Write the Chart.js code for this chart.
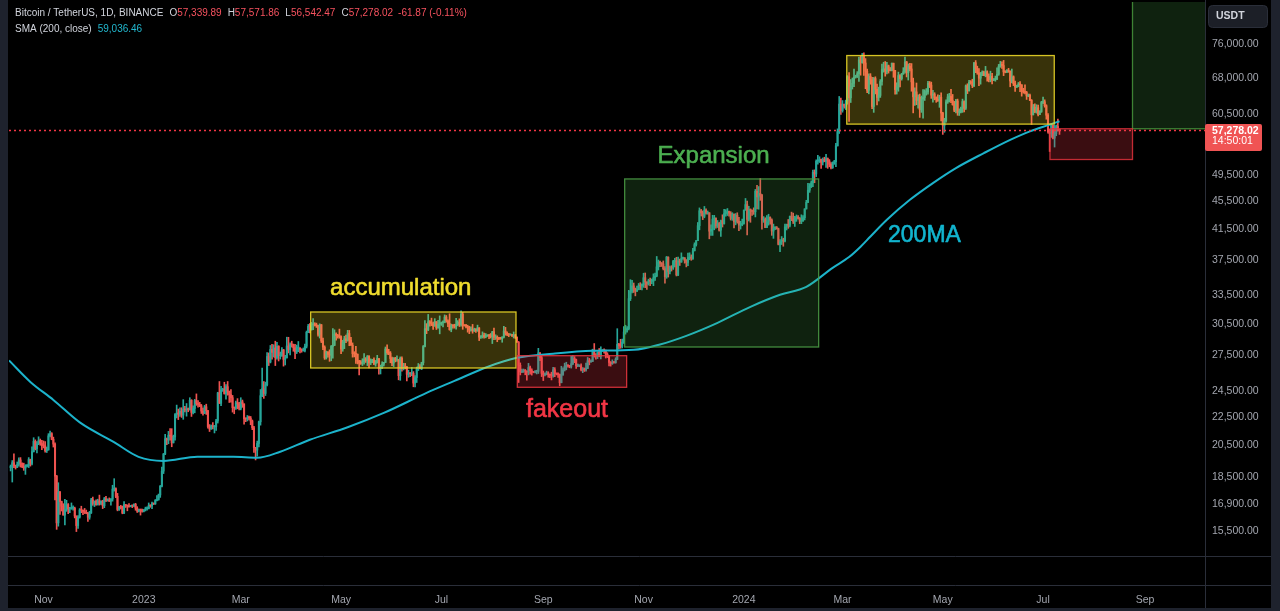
<!DOCTYPE html>
<html><head><meta charset="utf-8">
<script src="https://cdn.jsdelivr.net/npm/chart.js@4.4.1/dist/chart.umd.min.js"></script>
<style>html,body{margin:0;padding:0;background:#000;overflow:hidden}canvas{display:block}</style>
</head><body>
<canvas id="c" width="1280" height="611"></canvas>
<script>
// ---------------- DATA (BTC/USDT daily) ----------------
const startDate = '2022-10-12';
const firstOpen = 19060;
const closes = [
19155,19375,19175,19070,19262,19550,19330,19125,19040,19165,19205,19570,19330,20085,20770,20290,20595,20818,20630,20490,
20480,20150,20205,21150,21300,20905,20590,18545,15922,17600,17070,16812,16330,16620,16900,16660,16690,16700,16700,16280,15780,16225,16605,16595,16520,16460,16430,16215,16440,17160,
16970,17090,16885,17110,16965,17090,16835,17225,17130,17130,17090,17210,17775,17800,17360,16630,16780,16740,16440,16900,16825,16820,16780,16840,16830,16915,16705,16545,16635,16605,16540,
16615,16670,16675,16850,16830,16950,16940,17125,17180,17440,17940,18850,19930,20950,20870,21180,21130,20675,21070,22670,22780,22710,22910,22630,23060,23010,23075,23030,23745,22830,23125,
23730,23490,23430,23325,22930,22760,23250,22960,21800,21630,21860,21780,21780,22200,24330,23520,24570,24630,24280,24830,24450,24190,23950,23190,23160,23555,23490,23140,
23630,23470,22360,22350,22430,22410,22200,21710,20360,20190,20630,22140,24110,24670,24290,24990,27400,26910,28040,27770,28170,27300,28330,27470,27480,27990,27140,27270,28350,28030,28480,
28450,28190,27800,28170,28180,28040,27920,27950,28330,29650,30230,29880,30390,30480,30320,30315,29450,30390,28820,28250,27270,27820,27590,27520,28310,28420,29480,29340,29250,29230,
28070,28680,29030,28850,29530,28900,28430,27660,27630,27600,26990,26800,26790,26930,27170,27030,27400,26830,26890,27110,26750,26850,27220,26330,26470,26720,26870,28080,27740,27700,27220,
26820,27250,27070,27120,25740,27240,26340,26500,26480,25850,25940,25900,25920,25120,25580,26340,26510,26340,26850,28310,30000,29890,30690,30550,30470,30270,30690,30080,30450,30470,
30590,30620,31160,30770,30510,29900,30350,30290,30170,30410,30620,30380,31450,30320,30290,30230,30140,29860,29910,29800,29910,29800,30080,29180,29230,29350,29210,29310,29350,29280,29230,
29700,29170,29180,29070,29060,29040,29180,29770,29570,29440,29400,29420,29280,29400,29170,28700,26620,26050,26100,26190,26120,26040,26430,26160,26060,26010,26090,26100,27720,27300,25930,
25800,25870,25970,25810,25780,25750,26240,25900,25890,25830,25160,25840,26220,26530,26610,26570,26530,26760,27210,27130,26570,26580,26580,26250,26300,26210,26350,27020,26910,26960,
27990,27500,27430,27790,27410,27930,27950,27920,27590,27390,26870,26760,26860,26850,27150,28500,28400,28320,28710,29680,29910,29990,33090,33900,34500,34150,33890,34080,34520,34490,34640,
35420,34940,34720,35080,35010,35040,35420,35620,36700,37310,37130,37060,36490,35540,37880,36160,36590,36570,37360,37450,35750,37410,37290,37720,37800,37450,37240,37830,37860,37720,
38690,39470,39980,41980,44080,43770,43290,44170,43720,43790,41240,41490,42890,43020,41940,42280,41370,42660,42270,43670,43860,43990,43730,43010,43600,42520,43440,42580,42070,42140,42280,
44180,44970,42850,44180,44160,43970,43930,46970,46110,46630,46340,42780,42840,41730,42510,43140,42760,41260,41620,41660,41580,39500,39840,40080,39940,41820,42120,42030,43300,42940,42580,
43080,43190,42990,42580,42660,43090,44340,45290,47130,47750,48290,49960,49700,51800,51910,52140,51650,52120,51780,52260,51850,51300,50730,51570,51730,54480,57040,62430,61130,
62390,61990,63110,68250,63720,66070,66800,68170,68350,68930,72100,71450,73070,71390,69500,65300,68390,67610,61940,67850,65500,63800,64220,67210,69880,69990,69450,70740,69890,69650,71330,
69700,65460,65980,68510,67840,68900,69360,71620,69150,70620,70010,67120,63920,64970,63190,63820,61280,63480,63800,64940,64940,66840,66410,64280,64500,63760,63420,63110,63840,60640,
58250,59120,62880,63890,64030,63160,62310,61190,63070,60790,60820,61480,62940,61580,66260,65230,67050,66940,66280,71450,70140,69120,67930,68530,69280,68500,69360,68370,67630,68350,67490,
67710,67750,68800,70570,71080,70790,69340,69310,69650,69510,67320,68240,66750,66010,66190,66640,66490,65170,64960,64830,64100,64250,63180,60280,61800,60860,61680,60330,60930,62760,
62900,62090,60200,57040,56660,58240,55860,56700,58040,57339.89,57278.02
];
const highs = [
19230,19510,19950,19225,19420,19680,19700,19360,19345,19250,19250,19700,19600,20400,21020,20875,20750,21085,20930,20840,
20800,20750,20390,21300,21480,21370,21060,20670,18590,18150,17650,17090,16950,17190,17135,16960,16750,16990,16830,16760,16290,16300,16680,16810,16600,16690,16600,16480,16530,17250,
17320,17100,17160,17200,17430,17110,17140,17300,17360,17225,17270,17240,18000,18390,17850,17530,16800,16860,16820,17060,16910,16870,16960,16860,16860,16940,16970,16785,16660,16640,16650,
16630,16760,16770,16990,16880,17040,16960,17180,17400,17490,17990,19100,19970,21260,21000,21460,21650,21650,21200,22750,23380,23080,23170,23180,23800,23280,23500,23160,23950,23800,23320,
23820,24250,23720,23590,23430,23160,23360,23450,22990,21940,21910,22090,21880,22320,24380,25250,24860,24700,25190,25000,25250,24480,24600,24130,23220,23680,23880,23600,
23950,23770,23480,22420,22600,22550,22530,22270,21820,20370,20790,22190,24600,26380,25250,25200,27750,27720,28400,28500,28470,28800,28700,28380,27800,28200,28040,27500,29180,29170,28650,
28800,28530,28500,28440,28770,28190,28100,28170,28530,29770,30420,30500,30620,31000,30590,30550,30320,30480,30410,29100,28370,27890,27820,28000,28400,30020,29890,29600,29450,29960,
29300,28880,29270,29380,29840,29830,29170,28640,27830,28330,27630,27050,27040,27200,27670,27300,27490,27480,27190,27150,27270,27050,27500,27220,26640,26930,26880,28260,28450,28050,27840,
27350,27300,27320,27450,27130,27360,27360,26800,26790,26530,26200,26000,26430,26080,25750,26470,26780,26690,26890,28400,30800,30500,31430,30800,31050,30660,31000,30700,30840,31280,
30660,30790,31380,31320,30880,31500,30450,30380,30440,31040,30800,30980,31810,31640,30390,30440,30340,30240,30190,30420,30050,30000,30350,30100,29330,29690,29580,29530,29410,29450,29530,
29740,30050,29410,29310,29110,29170,29230,30240,30130,29700,29530,29480,29460,29680,29440,29220,28780,26830,26290,26300,26260,26140,26790,26560,26320,26100,26170,26200,28140,27760,27500,
26130,25980,26120,26070,25870,26030,26450,26420,25940,25970,25880,26540,26400,26810,26890,26670,26620,27410,27490,27390,27160,26740,26640,26740,26430,26390,26820,27310,27230,27100,
28060,28580,27660,27830,28120,28280,28000,28100,27990,27740,27480,26950,27100,26970,27290,30000,28610,28980,29000,30200,30340,30200,34000,35200,35130,34820,34250,34480,34770,34860,34720,
35950,35980,34950,35260,35380,35280,35880,35980,37970,37530,37400,37220,37420,36750,37980,37930,36800,36850,37500,37750,37870,37890,37650,38420,37890,37830,37590,38380,38430,38170,
38980,39700,40000,42420,44490,44300,44050,44700,44370,44040,43800,42100,43430,43420,43090,42700,42430,42760,43500,44280,44240,44400,44020,43950,43800,43600,43680,43790,43130,42600,42900,
44180,45880,45500,44730,44340,44190,44500,47250,47900,47700,48970,46500,43250,43080,43400,43580,43200,42930,42200,41870,41870,41650,40130,40520,40300,42220,42200,42840,43310,43880,43740,
43290,43480,43380,43120,43500,43400,44370,45610,48200,48170,48590,50330,50370,52040,52820,52570,52190,52370,52490,52980,52370,52090,51560,51700,51960,54940,57580,64000,63680,
63150,62430,63230,68500,69170,67640,67980,69990,68600,69400,72800,72970,73650,73780,72420,70000,68900,68950,68120,68100,68240,66650,65970,67620,71150,71560,71730,71560,70900,70340,71370,
71350,69700,66920,69290,68720,69000,70300,72800,71760,71170,71280,71250,67940,65850,66870,64360,64500,64100,65450,65420,65670,67230,67200,67070,65290,64790,63920,64330,64250,64740,
60780,59600,63320,64490,64650,65500,64420,62980,63420,63450,61460,61830,63450,63100,66450,66700,67450,67400,67700,71500,71950,70650,70100,69220,69570,69500,70600,69570,68900,69500,69040,
67860,68400,70280,71060,71760,71630,71990,69580,69850,70150,69560,69990,68450,67300,66400,66990,67200,66490,65730,66480,65070,64520,64500,63360,62350,62480,62300,62200,61100,63000,
63850,63300,62290,60500,57500,58480,58240,58270,58300,59450,57571.86
];
const lows = [
18860,18190,19070,18975,19065,19155,19100,19070,18900,18650,19110,19070,19160,19240,20060,20200,20000,20550,20510,20220,
20330,20050,20030,20180,21080,20880,20390,17166,15588,15750,16360,16550,16330,15815,16530,16400,16460,16640,16600,16180,15476,15630,16170,16460,16350,16410,16400,16000,16110,16420,
16860,16790,16870,16880,16870,16900,16680,16730,17060,17090,17070,16870,17090,17660,17280,16560,16580,16660,16400,16400,16740,16560,16760,16780,16730,16790,16590,16470,16500,16330,16490,
16500,16550,16600,16660,16750,16670,16900,16910,17100,17140,17300,17900,18700,19890,20550,20610,20850,20410,20660,20850,22420,22300,22540,22460,22320,22870,22550,22880,23000,22530,22720,
22800,23360,23230,23260,22750,22630,22740,22680,21690,21450,21600,21630,21350,21530,22050,23500,23340,24450,24230,23840,24150,23580,23610,22850,22730,23050,23100,23020,
23020,23210,21970,22150,22200,22270,21930,21580,20040,19550,19790,20400,21900,24040,23900,24120,24900,26600,26830,27150,27350,26600,27160,27000,27170,27400,26550,26650,27270,27720,27550,
28250,27870,27200,27660,27830,27710,27780,27880,27800,28170,29610,29600,29870,29900,30260,30120,29270,29100,28670,28010,27140,27170,27330,26970,27020,27250,28380,28890,29090,29080,
27660,27870,28110,28670,28800,28380,28400,27340,27360,26780,26740,25810,26700,26600,26730,26870,26600,26390,26680,26850,26680,26540,26820,25870,25880,26340,26560,26870,27580,27560,26840,
26600,26510,26920,26970,25390,25350,26120,26220,26310,25300,25600,25650,25730,24820,24800,25170,26170,26300,26250,26650,28270,29520,29810,30250,30300,29930,30230,29920,30040,29500,
30320,30180,30580,30640,30200,29850,29700,30040,30050,29950,30300,30210,30250,29940,30250,30080,29660,29520,29750,29560,29720,29640,29740,28860,29060,29100,29090,29120,29250,29030,29100,
28580,28950,28960,28750,28950,28970,28700,29100,29370,29330,29230,29360,29250,29100,29060,28700,25170,25800,25980,26010,25810,25370,25800,25860,25780,25980,25960,25880,25920,27020,25660,
25330,25720,25800,25600,25560,25380,25620,25650,25800,25580,24900,25140,25760,26130,26230,26470,26410,26380,26670,26850,26360,26500,26500,26130,25990,26090,26120,26340,26660,26890,
26950,27340,27160,27210,27370,27180,27850,27690,27260,27300,26560,26550,26700,26810,26800,27110,28080,28140,28170,28600,29470,29660,29880,32880,33700,33760,33390,33870,34050,34080,34050,
34330,34300,34100,34580,34520,34740,34520,35110,35540,36330,36720,36750,36340,34800,35360,35500,35870,36210,36400,36700,35630,35660,36870,37250,37600,37150,36700,36860,37570,37500,
37620,38650,39280,39980,41420,43340,42820,43080,43580,43580,40220,40680,40670,41420,41660,41730,41250,40530,41800,42190,43300,43400,43300,42760,42720,41680,42100,42330,41300,41520,41970,
42180,44150,40750,42630,42450,43400,43560,43200,44340,44300,45600,41500,42440,41720,41700,42050,42200,40680,40280,41450,41500,39430,38560,39480,39260,39830,41400,41620,41800,42680,42280,
41880,42580,42880,42260,42260,42570,42780,44330,45240,46800,47540,47700,48300,49270,51320,51590,50620,51180,51710,50760,50620,50880,50520,50600,51280,50900,54440,56720,60360,
60800,61610,61320,62400,59000,62750,65560,66100,67950,68070,67200,68600,71330,68560,65630,64780,64550,66600,61500,60760,64530,62260,63060,63800,66400,69280,68380,68900,69070,69560,69560,
68130,64500,64500,65100,66000,67500,68790,69040,68210,67520,69570,65100,60660,62140,62300,61600,59770,60760,59600,63170,64270,64500,65880,63600,62800,63300,62790,62990,61770,59100,
56550,56940,58850,62570,62850,62700,62200,60900,60630,60180,60150,60630,60750,60870,61330,64600,65100,66600,65860,66060,69160,68800,66300,66620,68500,68500,68230,67300,67120,67130,66670,
67390,67260,67610,68560,70380,70120,68500,69130,69140,69230,66050,66900,66300,65080,65880,66050,64990,64060,64680,64520,63380,63940,63150,58400,60250,60710,60600,60050,60300,60750,
62500,61800,59420,56770,53480,56000,55720,54260,56300,57160,56542.47
];
// 200-day SMA (day offsets from 2022-11-01)
const smaDays = [-21,-8,6,22.5,42.6,57.8,72.9,93.6,115.5,130,144,162,185,207,233,250,270,288,310,334,359,375,391,410,430,448,464,480,490,497,503,513,527,541,555,572,588,600,612,618];
const smaValues = [27050,25220,23780,22060,20740,19750,19490,19750,19750,19690,20080,20880,21750,22790,24330,25300,26480,27280,27650,27910,28000,28500,29310,30580,32220,33510,34390,36590,37900,39200,40530,42800,45680,48240,50660,53200,55550,57120,58380,59036.46];
// axis ticks
const priceTicks = [76000,68000,60500,49500,45500,41500,37500,33500,30500,27500,24500,22500,20500,18500,16900,15500];
const monthLabels = ['Nov','2023','Mar','May','Jul','Sep','Nov','2024','Mar','May','Jul','Sep'];
const monthDates = ['2022-11-01','2023-01-01','2023-03-01','2023-05-01','2023-07-01','2023-09-01','2023-11-01','2024-01-01','2024-03-01','2024-05-01','2024-07-01','2024-09-01'];
// drawn zones (day offsets from 2022-11-01, prices)
const zoneFrom   = [162.5, 288.2, 353.5, 488.6];
const zoneTo     = [287.4, 354.7, 471.5, 614.8];
const zoneTop    = [31680, 27470, 48900, 73140];
const zoneBottom = [26390, 24780, 28260, 58480];
const labelTexts  = ['accumulation','Expansion','fakeout','200MA'];
const labelDays   = [174.3, 373.5, 293.5, 513.7];
const labelPrices = [33510, 51540, 22490, 39870];
// long/short position tool
const posFrom = 612.2, posSplit = 662.4;
const posEntry = 57600, posStop = 52100, posTarget = 100000;
const countdown = '14:50:01';

// ---------------- STYLE ----------------
const FONT = '"Liberation Sans", Arial, sans-serif';
const UP = '#26a69a', DOWN = '#ef5350';
const SMA_COLOR = '#1cb3cb';
const zoneFill   = ['rgba(255,228,45,0.22)','rgba(242,54,69,0.24)','rgba(80,180,80,0.19)','rgba(255,228,45,0.22)'];
const zoneStroke = ['rgba(235,215,40,0.9)','rgba(235,55,65,0.85)','rgba(76,160,70,0.85)','rgba(235,215,40,0.9)'];
const labelColors = ['#efdc2e','#4caf50','#f23645','#12b5cf'];
const labelFonts  = ['24px '+FONT,'24px '+FONT,'25px '+FONT,'23px '+FONT];

// ---------------- BUILD ----------------
const EPOCH = Date.UTC(2022,10,1), DAY = 86400000;
function dayOf(s){const p=s.split('-').map(Number);return (Date.UTC(p[0],p[1]-1,p[2])-EPOCH)/DAY;}
const d0 = dayOf(startDate);
const monthDays = monthDates.map(dayOf);
const opens = closes.map((c,i)=> i===0 ? firstOpen : closes[i-1]);
const candleColors = closes.map((c,i)=> c>=opens[i] ? UP : DOWN);
const wickData = closes.map((c,i)=>({x:d0+i, y:[Math.min(lows[i],opens[i],c), Math.max(highs[i],opens[i],c)]}));
const bodyData = closes.map((c,i)=>({x:d0+i, y:[opens[i], c]}));
const smaData = smaDays.map((d,i)=>({x:d, y:smaValues[i]}));

const n = closes.length;
const lastO = opens[n-1], lastH = highs[n-1], lastL = lows[n-1], lastC = closes[n-1];
const fmt = v => v.toLocaleString('en-US',{minimumFractionDigits:2,maximumFractionDigits:2});

const overlay = {
  id:'overlay',
  beforeDraw(chart){
    const {ctx,width,height} = chart;
    ctx.save();
    ctx.fillStyle='#000'; ctx.fillRect(0,0,width,height);
    ctx.restore();
  },
  afterDatasetsDraw(chart){
    const {ctx,chartArea:a} = chart;
    const xs = chart.scales.x, ys = chart.scales.y;
    ctx.save();
    ctx.beginPath(); ctx.rect(a.left,a.top,a.right-a.left,a.bottom-a.top); ctx.clip();
    // zones
    for(let i=0;i<zoneFrom.length;i++){
      const x1=xs.getPixelForValue(zoneFrom[i]), x2=xs.getPixelForValue(zoneTo[i]);
      const y1=ys.getPixelForValue(zoneTop[i]), y2=ys.getPixelForValue(zoneBottom[i]);
      ctx.fillStyle=zoneFill[i]; ctx.fillRect(x1,y1,x2-x1,y2-y1);
      ctx.strokeStyle=zoneStroke[i]; ctx.lineWidth=1.3; ctx.strokeRect(x1,y1,x2-x1,y2-y1);
    }
    // position tool
    const px1=xs.getPixelForValue(posFrom), px2=xs.getPixelForValue(posSplit), px3=a.right;
    const ye=ys.getPixelForValue(posEntry), yst=ys.getPixelForValue(posStop), yt=ys.getPixelForValue(posTarget);
    ctx.fillStyle='rgba(80,180,80,0.19)'; ctx.fillRect(px2,yt,px3-px2,ye-yt);
    ctx.strokeStyle='rgba(70,150,60,0.85)'; ctx.lineWidth=1.3; ctx.strokeRect(px2,yt,px3-px2+2,ye-yt);
    ctx.fillStyle='rgba(242,54,69,0.24)'; ctx.fillRect(px1,ye,px2-px1,yst-ye);
    ctx.strokeStyle='rgba(225,50,60,0.85)'; ctx.strokeRect(px1,ye,px2-px1,yst-ye);
    // labels (slight stroke to mimic the medium weight of the original)
    ctx.textAlign='left'; ctx.textBaseline='alphabetic'; ctx.lineWidth=0.6; ctx.lineJoin='round';
    for(let i=0;i<labelTexts.length;i++){
      const lx=xs.getPixelForValue(labelDays[i]), ly=ys.getPixelForValue(labelPrices[i]);
      ctx.font=labelFonts[i]; ctx.fillStyle=labelColors[i]; ctx.strokeStyle=labelColors[i];
      ctx.fillText(labelTexts[i], lx, ly);
      ctx.strokeText(labelTexts[i], lx, ly);
    }
    // last price dotted line
    const yl = Math.round(ys.getPixelForValue(lastC))+0.5;
    ctx.strokeStyle='#f23645'; ctx.lineWidth=1.6; ctx.setLineDash([2,3]);
    ctx.beginPath(); ctx.moveTo(a.left,yl); ctx.lineTo(a.right,yl); ctx.stroke();
    ctx.restore();
  },
  afterDraw(chart){
    const {ctx,width,height,chartArea:a} = chart;
    const ys = chart.scales.y;
    ctx.save();
    // frame strips
    ctx.fillStyle='#1e222d';
    ctx.fillRect(0,0,8,height); ctx.fillRect(1271,0,width-1271,height); ctx.fillRect(0,608,width,height-608);
    // separators
    ctx.strokeStyle='#2a2e39'; ctx.lineWidth=1;
    ctx.beginPath();
    ctx.moveTo(8,556.5); ctx.lineTo(1271,556.5);
    ctx.moveTo(8,585.5); ctx.lineTo(1271,585.5);
    ctx.moveTo(a.right+0.5,0); ctx.lineTo(a.right+0.5,608);
    ctx.stroke();
    // price label
    const yl = ys.getPixelForValue(lastC);
    ctx.fillStyle='#f05454';
    ctx.beginPath(); ctx.roundRect(a.right,yl-6.5,57,27,2); ctx.fill();
    ctx.fillStyle='#ffffff'; ctx.textBaseline='middle'; ctx.textAlign='left';
    ctx.font='bold 10.5px '+FONT; ctx.fillText(fmt(lastC), a.right+7, yl+0.5);
    ctx.font='10.5px '+FONT; ctx.fillText(countdown, a.right+7, yl+11);
    // USDT button
    ctx.fillStyle='#1c1f27'; ctx.strokeStyle='#2a2e39';
    ctx.beginPath(); ctx.roundRect(1208.5,5.5,59,22,4); ctx.fill(); ctx.stroke();
    ctx.fillStyle='#d1d4dc'; ctx.font='bold 10.5px '+FONT; ctx.fillText('USDT',1216,16.5);
    // legend
    let x = 15;
    const seg = (t,c,gap)=>{ctx.fillStyle=c; ctx.fillText(t,x,13.5); x+=ctx.measureText(t).width+(gap||0);};
    ctx.font='10px '+FONT;
    const G='#d1d4dc', R='#f7525f';
    seg('Bitcoin / TetherUS, 1D, BINANCE',G,6);
    seg('O',G); seg(fmt(lastO),R,6);
    seg('H',G); seg(fmt(lastH),R,6);
    seg('L',G); seg(fmt(lastL),R,6);
    seg('C',G); seg(fmt(lastC),R,5);
    const ch = lastC-lastO;
    seg(fmt(ch)+' ('+(ch/lastO*100).toFixed(2)+'%)',R);
    x = 15;
    ctx.fillStyle=G; ctx.fillText('SMA (200, close)',x,29); x+=ctx.measureText('SMA (200, close)').width+6;
    ctx.fillStyle='#22b8cf'; ctx.fillText(fmt(smaValues[smaValues.length-1]),x,29);
    ctx.restore();
  }
};

new Chart(document.getElementById('c'),{
  type:'bar',
  data:{datasets:[
    {type:'line',data:smaData,borderColor:SMA_COLOR,borderWidth:2,pointRadius:0,cubicInterpolationMode:'monotone',order:0},
    {data:bodyData,backgroundColor:candleColors,barThickness:1.4,grouped:false,minBarLength:1,order:1},
    {data:wickData,backgroundColor:candleColors,barThickness:1,grouped:false,order:2}
  ]},
  options:{
    responsive:false,animation:false,devicePixelRatio:1,
    layout:{padding:{left:9,right:9,top:2,bottom:3}},
    plugins:{legend:{display:false},tooltip:{enabled:false}},
    scales:{
      x:{type:'linear',min:-20.99,max:706.5,position:'bottom',offset:false,
        grid:{display:false,drawTicks:false,offset:false},border:{display:false},
        afterBuildTicks:s=>{s.ticks=monthDays.map(v=>({value:v}));},
        afterFit:s=>{s.height=52;s.paddingLeft=0;s.paddingRight=0;},
        ticks:{autoSkip:false,maxRotation:0,padding:38,color:'#a3a6af',font:{family:FONT,size:10.5},
          callback:(v,i)=>monthLabels[i]}},
      y:{type:'logarithmic',min:14290,max:87100,position:'right',
        grid:{display:false,drawTicks:false},border:{display:false},
        afterBuildTicks:s=>{s.ticks=priceTicks.map(v=>({value:v}));},
        afterFit:s=>{s.width=66;s.paddingTop=0;s.paddingBottom=0;},
        ticks:{autoSkip:false,padding:7,color:'#a3a6af',font:{family:FONT,size:10.5},
          callback:v=>fmt(v)}}
    }
  },
  plugins:[overlay]
});
</script>
</body></html>
